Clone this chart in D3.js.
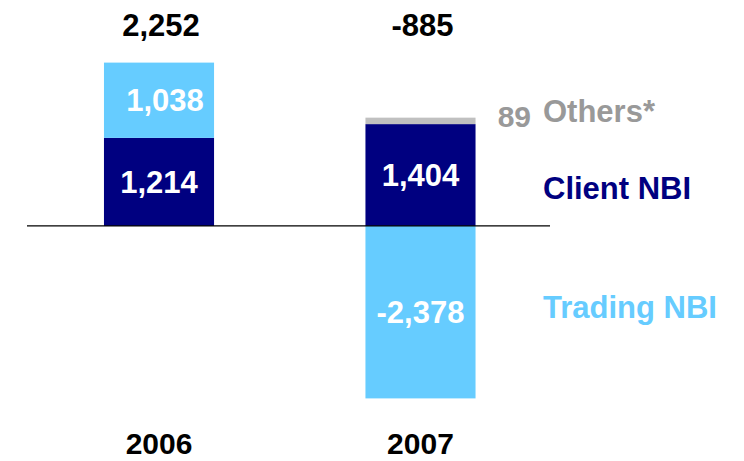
<!DOCTYPE html>
<html>
<head>
<meta charset="utf-8">
<style>
  body { margin: 0; background: #fff; }
  svg text { font-family: Arial, "Liberation Sans", sans-serif; font-weight: bold; }
</style>
<script src="https://cdn.jsdelivr.net/npm/d3@7"></script>
</head>
<body>
<svg id="chart" width="744" height="461"></svg>
<script>
var years = ["2006", "2007"];
var client = [1214, 1404];
var trading = [1038, -2378];
var others = [0, 89];
var totals = ["2,252", "-885"];
var legendNames = ["Others*", "Client NBI", "Trading NBI"];

var navy = "#000080", light = "#66ccff", grey = "#c0c0c0", greyText = "#999999";

var svg = d3.select("#chart");

var x = d3.scaleBand()
  .domain(years)
  .range([38.6, 540.9])
  .paddingInner(0.579)
  .paddingOuter(0.25);

var y = d3.scaleLinear()
  .domain([-2378, 2252])
  .range([398.4, 62.6]);

// plain hyphen for negatives
var fmt = d3.formatLocale({ decimal: ".", thousands: ",", grouping: [3], currency: ["", ""], minus: "-" }).format(",");

// build stacked segments per year
var segs = [];
years.forEach(function(yr, i) {
  var pos = 0, neg = 0;
  function add(v, color, name) {
    if (v === 0) return;
    var s = { year: yr, v: v, color: color, name: name };
    if (v >= 0) { s.y0 = pos; s.y1 = pos + v; pos += v; }
    else { s.y0 = neg + v; s.y1 = neg; neg += v; }
    segs.push(s);
  }
  add(client[i], navy, "client");
  add(trading[i], light, "trading");
  add(others[i], grey, "others");
});

svg.append("g").selectAll("rect")
  .data(segs)
  .enter().append("rect")
  .attr("x", function(d) { return x(d.year); })
  .attr("width", x.bandwidth())
  .attr("y", function(d) { return y(d.y1); })
  .attr("height", function(d) { return y(d.y0) - y(d.y1); })
  .attr("fill", function(d) { return d.color; });

// zero line
svg.append("line")
  .attr("x1", 27).attr("x2", 550)
  .attr("y1", y(0)).attr("y2", y(0))
  .attr("stroke", "#000").attr("stroke-width", 1.3);

// labels inside bars
svg.append("g").selectAll("text")
  .data(segs.filter(function(d) { return d.name !== "others"; }))
  .enter().append("text")
  .attr("x", function(d) { return x(d.year) + x.bandwidth() / 2 + (d.year === "2006" && d.name === "trading" ? 6 : 0); })
  .attr("y", function(d) { return (y(d.y0) + y(d.y1)) / 2 + 11; })
  .attr("text-anchor", "middle")
  .attr("font-size", 31)
  .attr("fill", "#fff")
  .text(function(d) { return fmt(d.v); });

// totals on top
svg.append("g").selectAll("text")
  .data(years)
  .enter().append("text")
  .attr("x", function(d) { return x(d) + x.bandwidth() / 2 + 2; })
  .attr("y", 36)
  .attr("text-anchor", "middle")
  .attr("font-size", 31)
  .attr("fill", "#000")
  .text(function(d, i) { return totals[i]; });

// year labels
svg.append("g").selectAll("text")
  .data(years)
  .enter().append("text")
  .attr("x", function(d) { return x(d) + x.bandwidth() / 2; })
  .attr("y", 454)
  .attr("text-anchor", "middle")
  .attr("font-size", 30)
  .attr("fill", "#000")
  .text(function(d) { return d; });

// legend-style labels on the right
svg.append("text")
  .attr("x", 531).attr("y", 127)
  .attr("text-anchor", "end")
  .attr("font-size", 30)
  .attr("fill", greyText)
  .text(others[1]);

var legY = [122, 199, 318];
var legC = [greyText, navy, light];
svg.append("g").selectAll("text")
  .data(legendNames)
  .enter().append("text")
  .attr("x", 543)
  .attr("y", function(d, i) { return legY[i]; })
  .attr("font-size", 31)
  .attr("fill", function(d, i) { return legC[i]; })
  .text(function(d) { return d; });
</script>
</body>
</html>
